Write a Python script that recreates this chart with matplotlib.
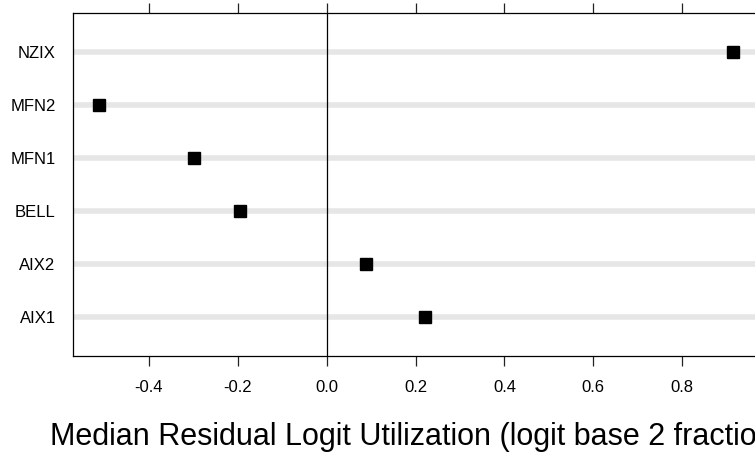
import matplotlib
matplotlib.use("Agg")
import matplotlib.pyplot as plt

# data (bottom to top)
sites = ["AIX1", "AIX2", "BELL", "MFN1", "MFN2", "NZIX"]
median_resid = [0.222, 0.088, -0.196, -0.299, -0.512, 0.915]
xticks = [-0.4, -0.2, 0.0, 0.2, 0.4, 0.6, 0.8]

plt.rcParams["font.family"] = ["Liberation Sans", "DejaVu Sans"]

W, H = 755, 457
fig = plt.figure(figsize=(W / 100, H / 100), dpi=100)
# panel runs past the right edge, like the cropped original
left, right, top, bottom = 73, 760, 13, 356
ax = fig.add_axes([left / W, 1 - bottom / H, (right - left) / W, (bottom - top) / H])

ypos = list(range(len(sites)))
for y in ypos:
    ax.axhline(y, color="#e6e6e6", lw=4, zorder=1, solid_capstyle="butt")
ax.axvline(0, color="black", lw=0.9, zorder=2)
ax.plot(median_resid, ypos, ls="none", marker="s", ms=8, color="black", zorder=3)

ax.set_xlim(-0.571, 0.975)
ax.set_ylim(-0.74, len(sites) - 1 + 0.74)
ax.set_yticks(ypos)
ax.set_yticklabels(sites, fontsize=12)
ax.set_xticks(xticks)
ax.set_xticklabels(["%.1f" % v for v in xticks], fontsize=12)
ax.tick_params(axis="x", direction="out", length=7, width=0.9, pad=10.5,
               top=True, labeltop=False, color="#222222")
ax.tick_params(axis="y", length=0, pad=12.5)
for s in ax.spines.values():
    s.set_linewidth(0.9)

ax.set_xlabel("Median Residual Logit Utilization (logit base 2 fraction)",
              fontsize=22, labelpad=19)

fig.savefig("out.png", dpi=100)
